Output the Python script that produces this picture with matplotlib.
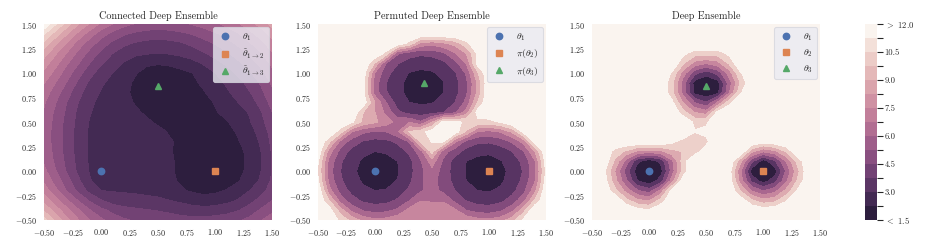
import numpy as np
import matplotlib
matplotlib.use("Agg")
import matplotlib.pyplot as plt
import seaborn as sns
from matplotlib.colors import ListedColormap, BoundaryNorm
from matplotlib.cm import ScalarMappable
from matplotlib.ticker import FuncFormatter, FixedLocator

plt.rcParams.update({
    "font.family": "serif",
    "font.serif": ["cmr10", "DejaVu Serif"],
    "mathtext.fontset": "cm",
    "axes.unicode_minus": False,
    "text.color": "#262626",
    "xtick.color": "#262626",
    "ytick.color": "#262626",
})

# ---------------- data ----------------
GRID = [-0.5, -0.4, -0.3, -0.2, -0.1, 0.0, 0.1, 0.2, 0.3, 0.4, 0.5,
        0.6, 0.7, 0.8, 0.9, 1.0, 1.1, 1.2, 1.3, 1.4, 1.5]

# rows: y = -0.5 ... 1.5 ; columns: x = -0.5 ... 1.5
Z_CONNECTED = [
    [10.0, 8.8, 7.7, 6.8, 6.0, 5.4, 4.9, 4.6, 4.4, 4.3, 4.2, 4.1, 4.0, 4.0, 4.0, 4.1, 4.2, 4.4, 4.7, 5.2, 5.8],
    [8.9, 7.9, 7.0, 6.1, 5.3, 4.7, 4.3, 4.0, 3.9, 3.8, 3.7, 3.6, 3.45, 3.3, 3.25, 3.3, 3.45, 3.7, 4.1, 4.6, 5.0],
    [8.0, 7.0, 6.1, 5.2, 4.4, 3.8, 3.4, 3.3, 3.2, 3.15, 3.1, 3.0, 2.85, 2.7, 2.6, 2.65, 2.8, 3.05, 3.5, 4.0, 4.5],
    [7.2, 6.2, 5.2, 4.3, 3.5, 3.0, 2.95, 2.92, 2.9, 2.85, 2.8, 2.6, 2.35, 2.15, 2.0, 2.1, 2.3, 2.6, 3.0, 3.5, 4.1],
    [6.6, 5.7, 4.8, 3.9, 3.05, 2.75, 2.7, 2.7, 2.7, 2.65, 2.55, 2.4, 2.15, 1.95, 1.85, 1.8, 1.9, 2.2, 2.6, 3.1, 3.9],
    [6.2, 5.3, 4.4, 3.6, 2.95, 2.6, 2.6, 2.6, 2.6, 2.55, 2.5, 2.35, 2.1, 1.85, 1.7, 1.6, 1.7, 2.0, 2.5, 3.0, 3.8],
    [5.9, 5.1, 4.3, 3.5, 2.9, 2.6, 2.6, 2.6, 2.6, 2.55, 2.5, 2.35, 2.1, 1.9, 1.75, 1.65, 1.7, 1.95, 2.45, 3.0, 3.8],
    [5.8, 5.0, 4.2, 3.45, 2.9, 2.65, 2.6, 2.6, 2.6, 2.55, 2.45, 2.3, 2.1, 1.9, 1.8, 1.75, 1.8, 2.0, 2.5, 3.0, 3.85],
    [5.7, 4.95, 4.2, 3.45, 2.9, 2.65, 2.6, 2.6, 2.6, 2.55, 2.45, 2.3, 2.15, 1.95, 1.85, 1.8, 1.85, 2.2, 2.6, 3.1, 3.95],
    [5.7, 4.95, 4.2, 3.45, 2.9, 2.65, 2.6, 2.6, 2.6, 2.55, 2.4, 2.2, 2.0, 1.9, 1.85, 1.85, 2.0, 2.35, 2.75, 3.25, 4.1],
    [5.8, 5.0, 4.25, 3.5, 2.95, 2.7, 2.65, 2.6, 2.5, 2.35, 2.15, 2.0, 1.95, 1.9, 1.95, 2.05, 2.2, 2.55, 2.95, 3.5, 4.3],
    [5.9, 5.1, 4.35, 3.6, 3.05, 2.75, 2.65, 2.55, 2.35, 2.15, 2.0, 1.95, 1.95, 1.95, 2.05, 2.2, 2.45, 2.8, 3.05, 3.7, 4.5],
    [6.1, 5.3, 4.5, 3.75, 3.15, 2.8, 2.65, 2.45, 2.2, 1.95, 1.85, 1.85, 1.9, 1.95, 2.05, 2.3, 2.7, 3.0, 3.4, 4.0, 4.8],
    [6.4, 5.6, 4.8, 4.0, 3.35, 2.95, 2.7, 2.4, 2.1, 1.8, 1.6, 1.7, 1.85, 2.0, 2.2, 2.55, 2.9, 3.25, 3.7, 4.3, 5.1],
    [6.8, 6.0, 5.2, 4.35, 3.6, 3.1, 2.8, 2.45, 2.15, 1.8, 1.6, 1.7, 1.85, 2.1, 2.4, 2.75, 3.1, 3.5, 4.0, 4.6, 5.4],
    [7.3, 6.5, 5.6, 4.8, 4.0, 3.4, 3.0, 2.65, 2.3, 2.05, 1.95, 2.0, 2.1, 2.25, 2.6, 3.0, 3.4, 3.9, 4.4, 5.0, 5.8],
    [7.9, 7.0, 6.1, 5.3, 4.5, 3.85, 3.35, 2.95, 2.6, 2.35, 2.3, 2.35, 2.5, 2.75, 3.1, 3.5, 3.9, 4.35, 4.9, 5.5, 6.2],
    [8.6, 7.6, 6.7, 5.8, 5.0, 4.3, 3.75, 3.35, 3.15, 3.05, 3.0, 3.05, 3.2, 3.4, 3.7, 4.0, 4.4, 4.85, 5.35, 5.95, 6.7],
    [9.5, 8.4, 7.4, 6.4, 5.6, 4.9, 4.3, 3.9, 3.65, 3.5, 3.45, 3.5, 3.65, 3.9, 4.2, 4.55, 4.95, 5.4, 5.9, 6.5, 7.2],
    [10.6, 9.4, 8.3, 7.3, 6.4, 5.6, 5.0, 4.6, 4.35, 4.2, 4.15, 4.2, 4.35, 4.55, 4.85, 5.15, 5.5, 5.95, 6.5, 7.1, 7.8],
    [12.0, 10.6, 9.4, 8.3, 7.4, 6.6, 6.0, 5.5, 5.2, 5.0, 4.95, 5.0, 5.1, 5.3, 5.55, 5.85, 6.2, 6.65, 7.2, 7.8, 8.5],
]

Z_PERMUTED = [
    [13.5, 13.5, 11.5, 10.0, 8.4, 7.8, 8.0, 8.6, 8.9, 9.0, 8.8, 8.9, 9.0, 8.6, 8.0, 7.8, 8.3, 9.8, 12.25, 13.5, 13.5],
    [13.5, 12.75, 9.7, 7.0, 5.8, 5.4, 5.6, 6.3, 8.0, 8.5, 8.4, 8.4, 7.8, 6.0, 5.3, 5.2, 5.7, 7.0, 9.8, 13.45, 13.5],
    [13.5, 10.5, 6.8, 5.1, 4.2, 3.9, 4.0, 4.7, 5.9, 7.4, 7.3, 7.3, 5.6, 4.4, 3.9, 3.8, 4.1, 5.1, 6.9, 10.7, 13.5],
    [13.35, 8.1, 5.4, 4.0, 3.3, 3.0, 3.05, 3.7, 4.8, 5.8, 6.6, 5.6, 4.5, 3.5, 3.0, 2.9, 3.2, 4.0, 5.5, 8.4, 13.45],
    [12.35, 7.0, 4.7, 3.5, 2.8, 2.6, 2.7, 3.05, 4.1, 5.9, 6.3, 5.6, 3.9, 3.0, 2.7, 2.6, 2.8, 3.5, 4.9, 7.3, 12.75],
    [11.9, 6.6, 4.5, 3.2, 2.7, 2.3, 2.5, 2.9, 3.9, 5.6, 7.0, 5.4, 3.8, 2.9, 2.5, 2.3, 2.7, 3.3, 4.6, 7.0, 12.35],
    [12.25, 7.0, 4.7, 3.4, 2.8, 2.6, 2.7, 3.0, 4.0, 5.8, 8.3, 5.7, 3.9, 3.0, 2.7, 2.6, 2.9, 3.6, 4.9, 7.3, 12.85],
    [13.35, 8.2, 5.4, 4.0, 3.3, 3.0, 3.1, 3.7, 4.8, 6.8, 11.1, 6.6, 5.2, 4.0, 3.3, 3.2, 3.6, 4.5, 5.9, 8.9, 13.5],
    [13.5, 10.9, 7.0, 5.3, 4.35, 4.0, 4.1, 4.8, 6.1, 10.8, 12.1, 12.2, 7.8, 5.5, 4.8, 4.7, 5.2, 6.2, 8.0, 12.75, 13.5],
    [13.5, 13.5, 11.1, 7.5, 6.3, 5.8, 6.0, 7.2, 10.6, 11.4, 12.8, 13.2, 12.9, 10.3, 7.4, 7.0, 7.6, 9.2, 12.35, 13.5, 13.5],
    [13.5, 13.5, 13.5, 12.25, 10.0, 9.3, 8.2, 7.0, 7.4, 6.2, 8.8, 12.6, 12.4, 11.7, 11.5, 11.5, 12.15, 13.25, 13.5, 13.5, 13.5],
    [13.5, 13.5, 13.5, 13.5, 10.5, 9.0, 7.0, 4.8, 3.9, 3.7, 3.8, 4.4, 5.6, 8.1, 12.75, 13.25, 13.5, 13.5, 13.5, 13.5, 13.5],
    [13.5, 13.5, 13.5, 13.5, 12.95, 9.0, 6.0, 3.8, 3.0, 2.8, 2.9, 3.5, 4.5, 6.4, 10.5, 13.5, 13.5, 13.5, 13.5, 13.5, 13.5],
    [13.5, 13.5, 13.5, 13.5, 12.25, 6.8, 4.6, 3.3, 2.7, 2.45, 2.6, 3.0, 3.9, 5.7, 9.4, 13.5, 13.5, 13.5, 13.5, 13.5, 13.5],
    [13.5, 13.5, 13.5, 13.5, 12.55, 6.7, 4.5, 3.3, 2.7, 2.4, 2.55, 2.95, 3.9, 5.6, 9.3, 13.5, 13.5, 13.5, 13.5, 13.5, 13.5],
    [13.5, 13.5, 13.5, 13.5, 12.85, 7.4, 5.0, 3.7, 2.95, 2.75, 2.85, 3.3, 4.3, 6.2, 10.3, 13.5, 13.5, 13.5, 13.5, 13.5, 13.5],
    [13.5, 13.5, 13.5, 13.5, 13.5, 10.4, 6.0, 4.6, 3.75, 3.45, 3.6, 4.1, 5.4, 7.6, 12.65, 13.5, 13.5, 13.5, 13.5, 13.5, 13.5],
    [13.5, 13.5, 13.5, 13.5, 13.5, 13.5, 11.5, 6.2, 5.2, 4.8, 5.0, 5.7, 7.3, 9.0, 12.25, 13.5, 13.5, 13.5, 13.5, 13.5, 13.5],
    [13.5, 13.5, 13.5, 13.5, 13.5, 13.5, 13.5, 12.95, 11.5, 8.5, 8.0, 8.6, 9.5, 11.5, 13.5, 13.5, 13.5, 13.5, 13.5, 13.5, 13.5],
    [13.5, 13.5, 13.5, 13.5, 13.5, 13.5, 13.5, 13.5, 13.5, 13.5, 13.5, 13.5, 13.5, 13.5, 13.5, 13.5, 13.5, 13.5, 13.5, 13.5, 13.5],
    [13.5, 13.5, 13.5, 13.5, 13.5, 13.5, 13.5, 13.5, 13.5, 13.5, 13.5, 13.5, 13.5, 13.5, 13.5, 13.5, 13.5, 13.5, 13.5, 13.5, 13.5],
]

Z_DEEP = [
    [13.5, 13.5, 13.5, 13.5, 13.5, 13.5, 13.5, 13.5, 13.5, 13.5, 13.5, 13.5, 13.5, 13.5, 13.5, 13.5, 13.5, 13.5, 13.5, 13.5, 13.5],
    [13.5, 13.5, 13.5, 13.5, 12.6, 12.2, 13.5, 13.5, 13.5, 13.5, 13.5, 13.5, 13.5, 13.5, 13.5, 12.9, 13.2, 13.5, 13.5, 13.5, 13.5],
    [13.5, 13.5, 13.5, 11.0, 9.3, 8.8, 11.0, 13.5, 13.5, 13.5, 13.5, 13.5, 13.5, 13.0, 10.7, 9.5, 10.0, 11.8, 13.5, 13.5, 13.5],
    [13.5, 13.5, 11.0, 8.4, 6.1, 5.2, 7.9, 12.6, 13.5, 13.5, 13.5, 13.5, 13.5, 10.4, 7.3, 5.9, 6.9, 9.4, 12.2, 13.5, 13.5],
    [13.5, 13.0, 9.6, 6.2, 3.0, 2.0, 3.6, 8.2, 13.0, 13.5, 13.5, 13.5, 13.1, 8.3, 4.1, 2.2, 3.9, 7.1, 10.7, 13.5, 13.5],
    [13.5, 12.6, 9.0, 5.3, 2.0, 1.0, 2.3, 6.6, 11.3, 13.5, 13.5, 13.5, 12.8, 7.7, 2.2, 1.0, 2.2, 6.2, 10.0, 13.5, 13.5],
    [13.5, 13.5, 10.2, 6.8, 3.3, 2.0, 3.3, 7.1, 11.4, 13.5, 13.5, 13.5, 13.5, 9.4, 4.8, 2.2, 4.2, 7.5, 11.0, 13.5, 13.5],
    [13.5, 13.5, 11.4, 10.2, 8.6, 8.3, 8.6, 10.0, 10.6, 11.3, 12.8, 13.5, 13.5, 13.5, 9.4, 7.7, 8.6, 10.7, 13.5, 13.5, 13.5],
    [13.5, 13.5, 13.5, 13.5, 13.5, 13.5, 13.5, 12.4, 11.3, 10.6, 11.6, 13.5, 13.5, 13.5, 13.5, 12.7, 13.1, 13.5, 13.5, 13.5, 13.5],
    [13.5, 13.5, 13.5, 13.5, 13.5, 13.5, 13.5, 13.5, 13.5, 12.1, 12.4, 13.5, 13.5, 13.5, 13.5, 13.5, 13.5, 13.5, 13.5, 13.5, 13.5],
    [13.5, 13.5, 13.5, 13.5, 13.5, 13.5, 13.5, 13.5, 13.5, 11.6, 11.7, 13.5, 13.5, 13.5, 13.5, 13.5, 13.5, 13.5, 13.5, 13.5, 13.5],
    [13.5, 13.5, 13.5, 13.5, 13.5, 13.5, 13.5, 13.5, 11.0, 8.9, 8.2, 12.4, 13.5, 13.5, 13.5, 13.5, 13.5, 13.5, 13.5, 13.5, 13.5],
    [13.5, 13.5, 13.5, 13.5, 13.5, 13.5, 13.5, 12.4, 8.8, 5.9, 4.6, 7.6, 11.4, 13.5, 13.5, 13.5, 13.5, 13.5, 13.5, 13.5, 13.5],
    [13.5, 13.5, 13.5, 13.5, 13.5, 13.5, 13.5, 11.0, 6.9, 2.5, 1.7, 2.5, 7.3, 11.8, 13.5, 13.5, 13.5, 13.5, 13.5, 13.5, 13.5],
    [13.5, 13.5, 13.5, 13.5, 13.5, 13.5, 13.5, 11.0, 6.6, 2.3, 1.4, 2.3, 6.6, 10.6, 13.5, 13.5, 13.5, 13.5, 13.5, 13.5, 13.5],
    [13.5, 13.5, 13.5, 13.5, 13.5, 13.5, 13.5, 11.8, 8.2, 5.0, 3.6, 5.0, 8.2, 11.8, 13.5, 13.5, 13.5, 13.5, 13.5, 13.5, 13.5],
    [13.5, 13.5, 13.5, 13.5, 13.5, 13.5, 13.5, 13.5, 10.7, 8.4, 7.6, 8.4, 10.7, 13.5, 13.5, 13.5, 13.5, 13.5, 13.5, 13.5, 13.5],
    [13.5, 13.5, 13.5, 13.5, 13.5, 13.5, 13.5, 13.5, 12.4, 11.2, 11.3, 11.2, 12.4, 13.5, 13.5, 13.5, 13.5, 13.5, 13.5, 13.5, 13.5],
    [13.5, 13.5, 13.5, 13.5, 13.5, 13.5, 13.5, 13.5, 13.5, 13.5, 13.5, 13.5, 13.5, 13.5, 13.5, 13.5, 13.5, 13.5, 13.5, 13.5, 13.5],
    [13.5, 13.5, 13.5, 13.5, 13.5, 13.5, 13.5, 13.5, 13.5, 13.5, 13.5, 13.5, 13.5, 13.5, 13.5, 13.5, 13.5, 13.5, 13.5, 13.5, 13.5],
    [13.5, 13.5, 13.5, 13.5, 13.5, 13.5, 13.5, 13.5, 13.5, 13.5, 13.5, 13.5, 13.5, 13.5, 13.5, 13.5, 13.5, 13.5, 13.5, 13.5, 13.5],
]

TITLES = ["Connected Deep Ensemble", "Permuted Deep Ensemble", "Deep Ensemble"]

POINTS_X = [[0.0, 1.0, 0.5], [0.0, 1.0, 0.43], [0.0, 1.0, 0.5]]
POINTS_Y = [[0.0, 0.0, 0.866], [0.0, 0.0, 0.90], [0.0, 0.0, 0.866]]
LABELS = [
    [r"$\theta_1$", r"$\tilde{\theta}_{1\to 2}$", r"$\tilde{\theta}_{1\to 3}$"],
    [r"$\theta_1$", r"$\pi(\theta_2)$", r"$\pi(\theta_3)$"],
    [r"$\theta_1$", r"$\theta_2$", r"$\theta_3$"],
]
MARKERS = ["o", "s", "^"]
MARKER_COLORS = ["#4C72B0", "#DD8452", "#55A868"]

# fine levels (colour bar, connected panel) and coarse levels (other panels)
LEVELS = [1.5, 2.25, 3.0, 3.75, 4.5, 5.25, 6.0, 6.75, 7.5, 8.25, 9.0, 9.75, 10.5, 11.25, 12.0]
COARSE_LEVELS = [1.5, 3.0, 4.5, 6.0, 7.5, 9.0, 10.5, 12.0, 100.0]
CBAR_LABELS = [r"$<$ 1.5", "", "3.0", "", "4.5", "", "6.0", "", "7.5", "", "9.0", "", "10.5", "", r"$>$ 12.0"]
TICKS = [-0.5, -0.25, 0.0, 0.25, 0.5, 0.75, 1.0, 1.25, 1.5]

# ---------------- plot ----------------
ncol = len(LEVELS) - 1
palette = sns.cubehelix_palette(ncol, light=0.96, dark=0.15, reverse=True)
cmap = ListedColormap(palette)
norm = BoundaryNorm(LEVELS, ncol)
coarse_colors = sns.cubehelix_palette(len(COARSE_LEVELS) - 1, light=0.96, dark=0.15, reverse=True)

fig = plt.figure(figsize=(9.34, 2.49), dpi=100)
lefts = [0.0471, 0.3402, 0.6338]
bottom, width, height = 0.1165, 0.2446, 0.787

X, Y = np.meshgrid(GRID, GRID)
fmt = FuncFormatter(lambda v, p: r"$%.2f$" % v)

for k, Z in enumerate([Z_CONNECTED, Z_PERMUTED, Z_DEEP]):
    ax = fig.add_axes([lefts[k], bottom, width, height])
    Zc = np.array(Z, dtype=float)
    if k == 0:
        Zc = np.clip(Zc, LEVELS[0], LEVELS[-1])
        ax.contourf(X, Y, Zc, levels=LEVELS, cmap=cmap, norm=norm)
    else:
        Zc = np.clip(Zc, COARSE_LEVELS[0], None)
        ax.contourf(X, Y, Zc, levels=COARSE_LEVELS, colors=coarse_colors)
    for j in range(3):
        ax.plot(POINTS_X[k][j], POINTS_Y[k][j], linestyle="none",
                marker=MARKERS[j], color=MARKER_COLORS[j], markersize=4.6,
                label=LABELS[k][j])
    ax.set_xlim(-0.5, 1.5)
    ax.set_ylim(-0.5, 1.5)
    ax.xaxis.set_major_locator(FixedLocator(TICKS))
    ax.yaxis.set_major_locator(FixedLocator(TICKS))
    ax.xaxis.set_major_formatter(fmt)
    ax.yaxis.set_major_formatter(fmt)
    ax.tick_params(length=0, labelsize=5.8, pad=5)
    for s in ax.spines.values():
        s.set_visible(False)
    ax.set_title(TITLES[k], fontsize=7.3, pad=3.5)
    leg = ax.legend(loc="upper right", fontsize=7, frameon=True,
                    facecolor="#EAEAF2", edgecolor="#d6d6de", framealpha=0.8,
                    borderpad=0.4, labelspacing=0.45, handletextpad=1.0,
                    handlelength=1.6, borderaxespad=0.35)
    leg.get_frame().set_linewidth(0.8)

cax = fig.add_axes([0.9261, bottom, 0.0128, height])
sm = ScalarMappable(norm=norm, cmap=cmap)
cb = fig.colorbar(sm, cax=cax, ticks=LEVELS)
cb.outline.set_visible(False)
cb.ax.set_yticklabels(CBAR_LABELS)
cb.ax.tick_params(length=4, width=0.8, labelsize=6.2, pad=1.5, color="#262626")

fig.savefig("out.png", dpi=100)
